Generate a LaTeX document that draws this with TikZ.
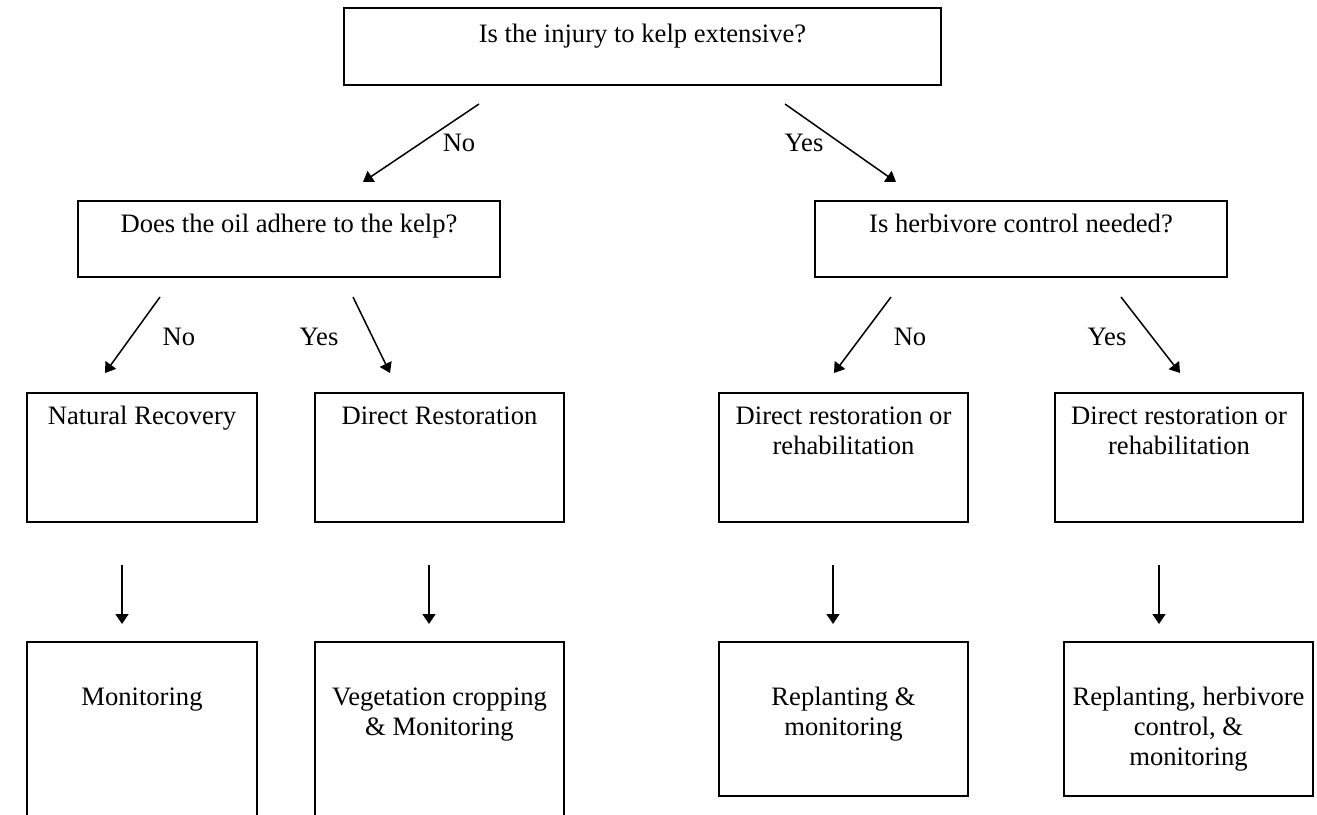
\documentclass[tikz,border=0pt]{standalone}
\usepackage{fontspec}
\setmainfont{Liberation Serif}
\usetikzlibrary{arrows.meta}
\begin{document}
\begin{tikzpicture}[x=0.5pt,y=-0.5pt,
  boxline/.style={draw=black,line width=1pt},
  boxtext/.style={anchor=north,align=center,inner sep=0pt,font=\fontsize{13.3}{15}\selectfont},
  lbl/.style={inner sep=0pt,font=\fontsize{13.3}{15}\selectfont},
  flow/.style={line width=0.75pt,-{Triangle[length=5pt,width=6.5pt]}}]
\useasboundingbox (0,0) rectangle (1317,814);
% a box from its corners (pixel units); its text hangs from the first baseline
\newcommand\kbox[7]{%
  \draw[boxline] (#2,#3) rectangle (#4,#5);
  \coordinate (#1) at ({(#2+#4)/2},#3);
  \node[boxtext] (#1t) at ([yshift={-(#6-21)*0.5pt}]#1) {\strut #7};}
\kbox{q0}{344}{8}{941}{85}{34}{Is the injury to kelp extensive?}
\kbox{q1}{78}{201}{500}{277}{31}{Does the oil adhere to the kelp?}
\kbox{q2}{815}{201}{1227}{277}{31}{Is herbivore control needed?}
\kbox{nr}{27}{393}{257}{522}{31}{Natural Recovery}
\kbox{dr}{315}{393}{564}{522}{31}{Direct Restoration}
\kbox{ra}{719}{393}{968}{522}{31}{Direct restoration or\\rehabilitation}
\kbox{rb}{1055}{393}{1303}{522}{31}{Direct restoration or\\rehabilitation}
\kbox{mo}{27}{642}{257}{830}{63}{Monitoring}
\kbox{vc}{315}{642}{564}{830}{63}{Vegetation cropping\\\& Monitoring}
\kbox{rm}{719}{642}{968}{796}{63}{Replanting \&\\monitoring}
\kbox{rh}{1064}{642}{1313}{796}{63}{Replanting, herbivore\\control, \&\\monitoring}
% arrow end points
\coordinate (a1s) at (479,104); \coordinate (a1e) at (363,182);
\coordinate (a2s) at (785,104); \coordinate (a2e) at (896,182);
\coordinate (b1s) at (160,297); \coordinate (b1e) at (105,373);
\coordinate (b2s) at (353,297); \coordinate (b2e) at (390,373);
\coordinate (b3s) at (891,297); \coordinate (b3e) at (834,373);
\coordinate (b4s) at (1121,297); \coordinate (b4e) at (1180,373);
\coordinate (c1s) at (122,565); \coordinate (c1e) at (122,624);
\coordinate (c2s) at (429,565); \coordinate (c2e) at (429,624);
\coordinate (c3s) at (833,565); \coordinate (c3e) at (833,624);
\coordinate (c4s) at (1159,565); \coordinate (c4e) at (1159,624);
\foreach \a in {a1,a2,b1,b2,b3,b4,c1,c2,c3,c4}
  \draw[flow] (\a s) -- (\a e);
% branch labels
\node[lbl] (l1) at (459,143) {No};
\node[lbl] (l2) at (804,143) {Yes};
\node[lbl] (l3) at (179,337) {No};
\node[lbl] (l4) at (319,337) {Yes};
\node[lbl] (l5) at (910,337) {No};
\node[lbl] (l6) at (1107,337) {Yes};
\end{tikzpicture}
\end{document}
